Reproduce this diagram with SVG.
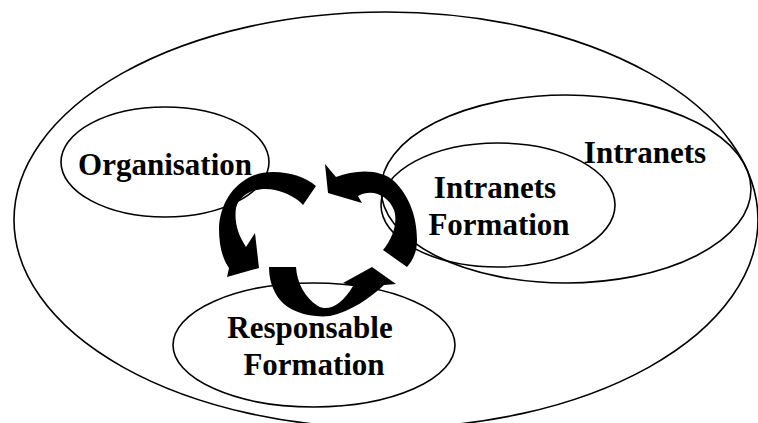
<svg xmlns="http://www.w3.org/2000/svg" width="758" height="423" viewBox="0 0 758 423">
  <style>
    .ring { fill: none; stroke: #000; stroke-width: 1.6; }
    .label { font-family: "Liberation Serif", "Times New Roman", serif; font-weight: bold; font-size: 31px; fill: #000; text-anchor: middle; }
    .cycle { fill: #000; stroke: none; }
  </style>
  <rect width="758" height="423" fill="#fff"/>

  <g id="environment">
    <ellipse class="ring" cx="386" cy="220" rx="372" ry="208"/>
  </g>

  <g id="intranets">
    <ellipse class="ring" cx="566" cy="189" rx="185" ry="94"/>
    <text class="label" x="645" y="163">Intranets</text>
  </g>

  <g id="intranets-formation">
    <ellipse class="ring" cx="498" cy="205" rx="117" ry="62"/>
    <text class="label" x="495" y="198">Intranets</text>
    <text class="label" x="499" y="235">Formation</text>
  </g>

  <g id="organisation">
    <ellipse class="ring" cx="165" cy="162" rx="104" ry="55"/>
    <text class="label" x="165" y="175">Organisation</text>
  </g>

  <g id="responsable-formation">
    <ellipse class="ring" cx="314" cy="345" rx="141" ry="62"/>
    <text class="label" x="310" y="338">Responsable</text>
    <text class="label" x="314" y="375">Formation</text>
  </g>

  <g id="connectors">
    <!-- top-left arc: sweeps left and down -->
    <path class="cycle" d="M316,186 C300,172 270,168 252,176 C232,185 220,205 219,228 C219,245 222,258 229,268 L227,277 L259,268 L255,233 L246,247 C238,235 234,222 236,208 C240,193 258,186 275,190 C288,193 298,199 303,205 Z"/>
    <!-- bottom arc: down, round the bottom, up -->
    <path class="cycle" d="M269,267 L296,267 C297,283 305,298 318,306 C328,312 342,305 353,286 L343,283 L372,267 L396,284 L384,285 C370,298 350,312 330,316 C310,318 290,312 280,300 C272,290 269,278 269,267 Z"/>
    <!-- right arc: up the right side, over the top, to the left -->
    <path class="cycle" d="M325,164 L336,177 C355,170 380,168 395,182 C408,195 417,215 417,240 C417,252 413,260 407,267 L383,250 C393,238 398,222 394,210 C388,195 372,188 358,196 L362,203 L328,193 Z"/>
  </g>
</svg>
